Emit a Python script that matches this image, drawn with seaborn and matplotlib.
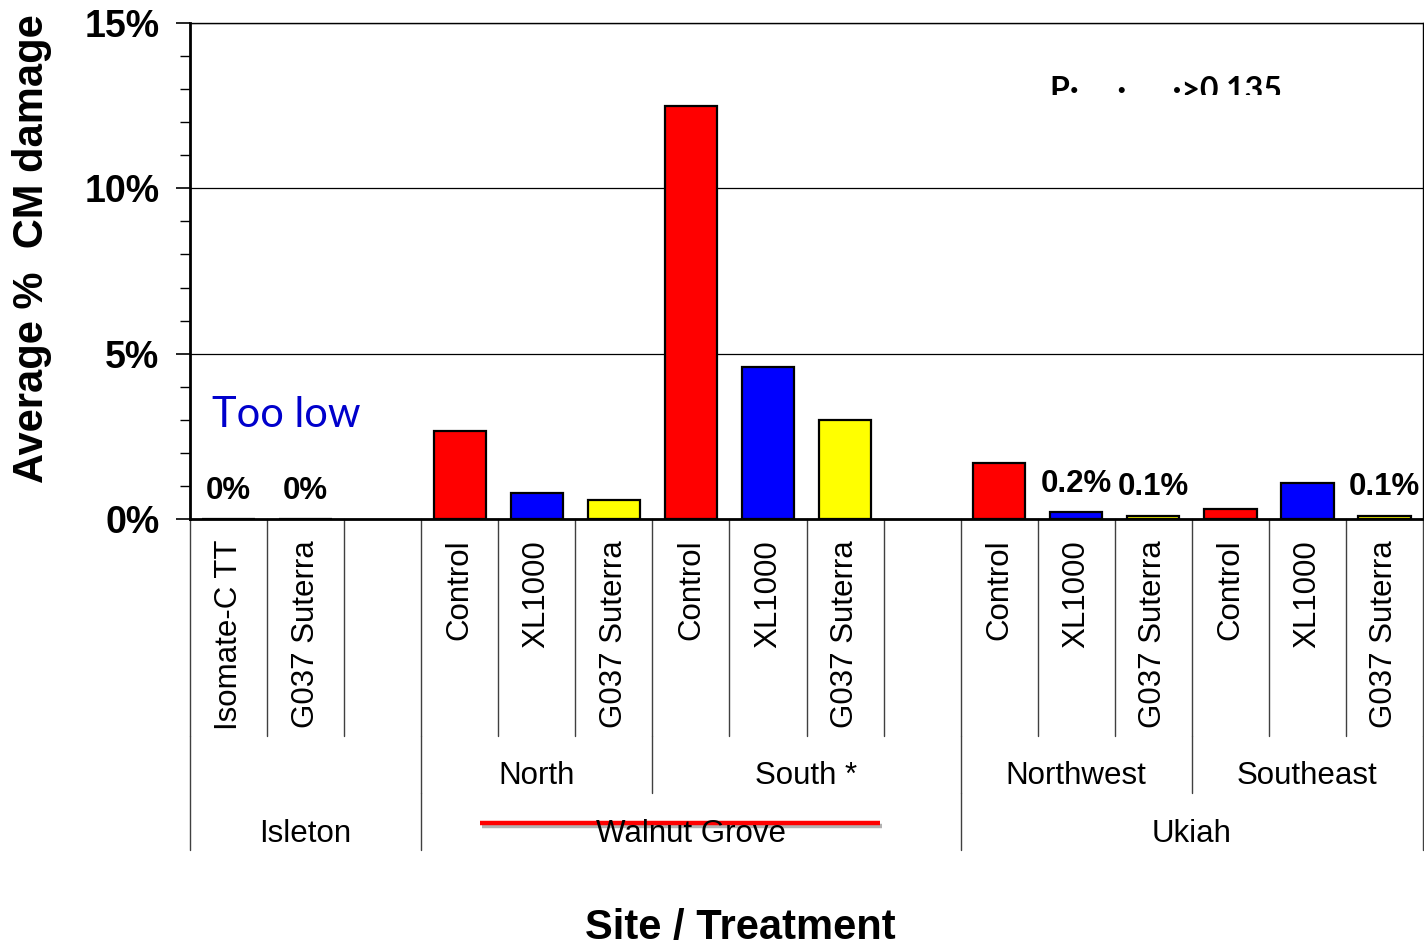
import numpy as np
import pandas as pd
import matplotlib
matplotlib.use("Agg")
import matplotlib.pyplot as plt
import matplotlib.patheffects as pe
from matplotlib.patches import Rectangle
from matplotlib.transforms import blended_transform_factory
import seaborn as sns

# data
sites = ["Isleton"] * 2 + ["Walnut Grove"] * 6 + ["Ukiah"] * 6
blocks = ["", "",
          "North", "North", "North", "South *", "South *", "South *",
          "Northwest", "Northwest", "Northwest", "Southeast", "Southeast", "Southeast"]
treatments = ["Isomate-C TT", "G037 Suterra",
              "Control", "XL1000", "G037 Suterra", "Control", "XL1000", "G037 Suterra",
              "Control", "XL1000", "G037 Suterra", "Control", "XL1000", "G037 Suterra"]
damage = [0.0, 0.0, 2.65, 0.78, 0.58, 12.5, 4.6, 3.0, 1.7, 0.2, 0.1, 0.3, 1.1, 0.1]
value_labels = ["0%", "0%", "", "", "", "", "", "", "", "0.2%", "0.1%", "", "", "0.1%"]

palette = {"Control": "#FF0000", "XL1000": "#0000FF", "G037 Suterra": "#FFFF00",
           "Isomate-C TT": "#00AA00"}

df = pd.DataFrame({"site": sites, "block": blocks, "treatment": treatments, "damage": damage})
df["slot"] = [f"{s}|{b}|{t}" for s, b, t in zip(sites, blocks, treatments)]

# slot order with empty slots after Isleton and after Walnut Grove
order = list(df["slot"][:2]) + ["gap1"] + list(df["slot"][2:8]) + ["gap2"] + list(df["slot"][8:])
pos = {s: i for i, s in enumerate(order)}
df["x"] = df["slot"].map(pos)

sns.set_theme(style="white")
plt.rcParams["font.family"] = ["Liberation Sans", "DejaVu Sans"]
plt.rcParams["text.color"] = "black"
plt.rcParams["axes.labelcolor"] = "black"
plt.rcParams["xtick.color"] = "black"
plt.rcParams["ytick.color"] = "black"

fig = plt.figure(figsize=(14.24, 9.5), dpi=100)
ax = fig.add_axes([190 / 1424, 1 - 519 / 950, 1233 / 1424, 496 / 950])

sns.barplot(data=df, x="slot", y="damage", hue="treatment", order=order,
            palette=palette, dodge=False, width=0.68, saturation=1,
            edgecolor="black", linewidth=1.6, legend=False, ax=ax, zorder=3)

ax.set_xlim(-0.5, len(order) - 0.5)
ax.set_ylim(0, 15)
ax.set_yticks([0, 5, 10, 15])
ax.set_yticks(np.arange(0, 16, 1), minor=True)
ax.set_yticklabels([f"{v}%" for v in [0, 5, 10, 15]], fontsize=27, fontweight="bold")
ax.tick_params(axis="y", which="major", direction="out", length=10, width=1.2,
               left=True, pad=12, colors="black")
ax.tick_params(axis="y", which="minor", direction="out", length=7, width=1.0, left=True)
ax.set_xticks([])
ax.set_xlabel("")
ax.set_ylabel("")
ax.yaxis.grid(True, which="major", color="black", linewidth=0.9, zorder=0)
for side in ["left", "bottom"]:
    ax.spines[side].set_linewidth(2)
    ax.spines[side].set_color("black")
for side in ["top", "right"]:
    ax.spines[side].set_linewidth(1.0)
    ax.spines[side].set_color("black")

# value labels over small bars
for i, (d, lab) in enumerate(zip(damage, value_labels)):
    if lab:
        ax.text(df["x"][i], d + 0.4, lab, ha="center", va="bottom",
                fontsize=22.5, fontweight="bold", color="black")

# category table below the axes
tr = blended_transform_factory(ax.transData, ax.transAxes)
row1, row2, row3 = -0.4375, -0.552, -0.667
lc = "#404040"
for b in np.arange(-0.5, len(order), 1.0):
    ax.plot([b, b], [0, row1], transform=tr, color=lc, lw=1.0, clip_on=False)
for b in [2.5, 5.5, 9.5, 12.5]:
    ax.plot([b, b], [row1, row2], transform=tr, color=lc, lw=1.0, clip_on=False)
for b in [-0.5, 15.5]:
    ax.plot([b, b], [row1, row3], transform=tr, color=lc, lw=1.0, clip_on=False)
for b in [2.5, 9.5]:
    ax.plot([b, b], [row2, row3], transform=tr, color=lc, lw=1.0, clip_on=False)

for i, t in enumerate(treatments):
    ax.text(df["x"][i], -0.042, t, transform=tr, rotation=90, ha="center", va="top",
            fontsize=22.5, color="black")

block_names = ["North", "South *", "Northwest", "Southeast"]
block_centers = [4, 7.5, 11, 14]
for name, c in zip(block_names, block_centers):
    ax.text(c, -0.518, name, transform=tr, ha="center", va="center", fontsize=22.5)

site_names = ["Isleton", "Walnut Grove", "Ukiah"]
site_centers = [1, 6, 12.5]
for name, c in zip(site_names, site_centers):
    ax.text(c, -0.635, name, transform=tr, ha="center", va="center", fontsize=22.5)

# red strike line over Walnut Grove
ax.plot([3.26, 8.45], [-0.613, -0.613], transform=tr, color="#FF0000", lw=3.2,
        clip_on=False, solid_capstyle="butt",
        path_effects=[pe.SimpleLineShadow(offset=(1.5, -2), shadow_color="gray", alpha=0.6),
                      pe.Normal()])

# annotations
ax.text(-0.215, 3.15, "Too low", ha="left", va="center", fontsize=30,
        color="#0000CC", family=["Lato", "DejaVu Sans"])

ptxt = fig.text(1050 / 1424, 1 - 100 / 950, "P·     ·      ·>0.135", ha="left",
                va="baseline", fontsize=23, fontweight="bold", color="black",
                family=["Lato", "DejaVu Sans"])
clip = Rectangle((0, 1 - 95 / 950), 1, 95 / 950, transform=fig.transFigure)
ptxt.set_clip_path(clip)

fig.text(32 / 1424, 1 - 248.5 / 950, "Average %  CM damage", rotation=90,
         ha="center", va="center", fontsize=30, fontweight="bold")
fig.text(740 / 1424, 2 / 950, "Site / Treatment", ha="center", va="bottom",
         fontsize=30, fontweight="bold")

fig.savefig("out.png", dpi=100, facecolor="white")
